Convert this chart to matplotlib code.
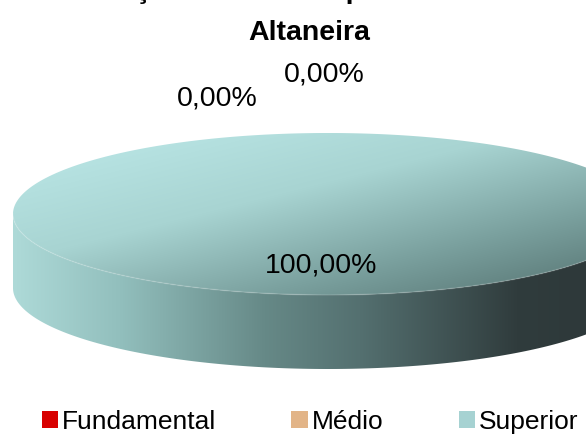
import numpy as np
import matplotlib
matplotlib.use("Agg")
import matplotlib.pyplot as plt
from matplotlib.patches import Polygon, Patch

# ---------------- data ----------------
categories = ["Fundamental", "Médio", "Superior"]
values = [0.0, 0.0, 100.0]
title_line1 = "Formação de Nível Superior dos Docentes em"
title_line2 = "Altaneira"

# ---------------- style / layout ----------------
plt.rcParams['font.family'] = ['Liberation Sans', 'DejaVu Sans']
W, H = 586, 434
CX, CY, RA, RB, DEPTH = 328.0, 214.0, 315.0, 81.0, 74.0
START_DEG = 90.0
legend_colors = ["#d80000", "#e2b487", "#a6d2d2"]
# label anchor points (px, baseline) for each category
label_pos = {"Fundamental": (217.5, 105.5), "Médio": (324.0, 81.5), "Superior": (321.0, 272.0)}

top_stops = [(0.0, (190, 234, 234)), (0.40, (168, 212, 210)), (0.70, (122, 160, 158)), (1.0, (80, 108, 106))]
side_stops = [(0.0, (174, 218, 216)), (0.17, (146, 191, 189)), (0.40, (102, 137, 135)),
              (0.55, (84, 112, 112)), (0.80, (48, 60, 61)), (1.0, (44, 54, 55))]

fig = plt.figure(figsize=(W / 100, H / 100), dpi=100)
ax = fig.add_axes([0, 0, 1, 1])
ax.set_xlim(0, W)
ax.set_ylim(H, 0)
ax.axis("off")

yy, xx = np.mgrid[0:H, 0:W] + 0.5


def ramp(t, stops):
    t = np.clip(t, 0, 1)
    pos = np.array([s[0] for s in stops])
    cols = np.array([s[1] for s in stops], float) / 255.0
    out = np.empty(t.shape + (3,))
    for k in range(3):
        out[..., k] = np.interp(t, pos, cols[:, k])
    return out


def ell(theta, dy=0.0):
    return np.column_stack([CX + RA * np.cos(theta), CY - RB * np.sin(theta) + dy])


total = float(sum(values))
fracs = [v / total for v in values]

# gradients
t_top = ((xx - (CX - RA)) * 0.55 + (yy - (CY - RB)) * 2.2) / (2 * RA * 0.55 + 2 * RB * 2.2)
top_img = ramp(t_top, top_stops)
t_side = (xx - (CX - RA)) / (2 * RA)
side_img = ramp(t_side, side_stops)

ang = np.radians(START_DEG)
for cat, f in zip(categories, fracs):
    if f <= 0:
        continue
    a0 = ang
    a1 = ang - 2 * np.pi * f  # clockwise
    ang = a1
    # side (front half of the ellipse)
    lo, hi = min(a0, a1), max(a0, a1)
    for k in range(-2, 3):
        s0 = max(lo, np.pi + 2 * np.pi * k)
        s1 = min(hi, 2 * np.pi + 2 * np.pi * k)
        if s1 > s0:
            th = np.linspace(s0, s1, 300)
            pts = np.vstack([ell(th), ell(th[::-1], DEPTH)])
            poly = Polygon(pts, closed=True, facecolor="none", edgecolor="none")
            ax.add_patch(poly)
            im = ax.imshow(side_img, extent=(0, W, H, 0), zorder=1, interpolation="bilinear")
            im.set_clip_path(poly)
    # top face
    th = np.linspace(a0, a1, 600)
    pts = np.vstack([[CX, CY], ell(th)]) if f < 1 else ell(th)
    poly = Polygon(pts, closed=True, facecolor="none", edgecolor="none")
    ax.add_patch(poly)
    im = ax.imshow(top_img, extent=(0, W, H, 0), zorder=2, interpolation="bilinear")
    im.set_clip_path(poly)
    # subtle light rim at the top-face front edge
    rim = ell(np.linspace(np.pi, 2 * np.pi, 300))
    ax.plot(rim[:, 0], rim[:, 1], color=(1, 1, 1), alpha=0.12, lw=1.2, zorder=3)

ax.set_xlim(0, W)
ax.set_ylim(H, 0)

# data labels
for cat, v in zip(categories, values):
    x, y = label_pos[cat]
    ax.text(x, y, f"{v:.2f}%".replace(".", ","), fontsize=20.5, ha="center", va="baseline",
            color="black", zorder=5)

# title (first line partly above the picture, as in the reference)
ax.text(48, -1.5, title_line1, fontsize=20.5, fontweight="bold", ha="left", va="baseline", zorder=5)
ax.text(309, 40, title_line2, fontsize=20.5, fontweight="bold", ha="center", va="baseline", zorder=5)

# legend
handles = [Patch(facecolor=c, edgecolor="none") for c in legend_colors]
leg = ax.legend(handles, categories, loc="center", bbox_to_anchor=(310 / W, 1 - 422 / H),
                ncol=3, frameon=False, fontsize=19, handlelength=0.62, handleheight=0.62,
                handletextpad=0.15, columnspacing=2.85, borderaxespad=0, borderpad=0)

fig.savefig("out.png", dpi=100)
